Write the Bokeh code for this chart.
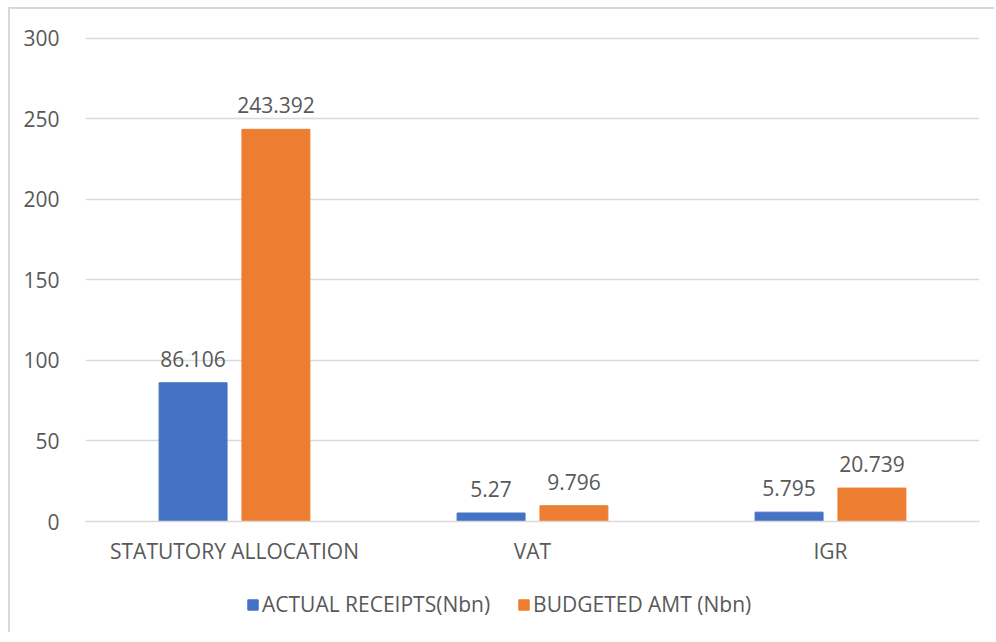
from bokeh.plotting import figure
from bokeh.models import ColumnDataSource, LabelSet, FactorRange, Range1d, Legend, LegendItem, SingleIntervalTicker
from bokeh.layouts import column
from bokeh.transform import dodge
from bokeh.embed import file_html
from bokeh.resources import INLINE
from bokeh.core.properties import value

categories = ["STATUTORY ALLOCATION", "VAT", "IGR"]
actual = [86.106, 5.27, 5.795]
budgeted = [243.392, 9.796, 20.739]
series_names = ["ACTUAL RECEIPTS(Nbn)", "BUDGETED AMT (Nbn)"]
colors = ["#4472C4", "#ED7D31"]

FONT = "Open Sans"
FS = "21px"
TXT = "#595959"
GRID = "#d9d9d9"

src = ColumnDataSource(dict(
    cat=categories,
    actual=actual,
    budgeted=budgeted,
    actual_lbl=[str(v) for v in actual],
    budgeted_lbl=[str(v) for v in budgeted],
))

p = figure(x_range=FactorRange(*categories), y_range=Range1d(0, 301),
           width=984, height=567, output_backend="svg", toolbar_location=None,
           min_border_left=75, min_border_right=15, min_border_top=27, min_border_bottom=55)

off = 0.139
w = 0.228
r1 = p.vbar(x=dodge("cat", -off, range=p.x_range), top="actual", width=w, source=src,
            fill_color=colors[0], line_color=colors[0])
r2 = p.vbar(x=dodge("cat", off, range=p.x_range), top="budgeted", width=w, source=src,
            fill_color=colors[1], line_color=colors[1])

for col, o in (("actual", -off), ("budgeted", off)):
    p.add_layout(LabelSet(x=dodge("cat", o, range=p.x_range), y=col, text=col + "_lbl", source=src,
                          text_align="center", text_baseline="alphabetic", y_offset=16,
                          text_font=value(FONT), text_font_size=FS, text_color=TXT))

p.outline_line_color = None
p.xgrid.grid_line_color = None
p.ygrid.grid_line_color = GRID
p.ygrid.grid_line_width = 1.5

p.yaxis.ticker = SingleIntervalTicker(interval=50)
p.yaxis.axis_line_color = None
p.yaxis.major_tick_line_color = None
p.yaxis.minor_tick_line_color = None
p.yaxis.major_label_standoff = 20
p.yaxis.major_label_text_font = FONT
p.yaxis.major_label_text_font_size = FS
p.yaxis.major_label_text_color = TXT

p.xaxis.axis_line_color = GRID
p.xaxis.axis_line_width = 1.5
p.xaxis.major_tick_line_color = None
p.xaxis.minor_tick_line_color = None
p.xaxis.major_label_standoff = 9
p.xaxis.major_label_text_font = FONT
p.xaxis.major_label_text_font_size = FS
p.xaxis.major_label_text_color = TXT

# legend strip below the chart (its bars lie outside the strip's visible range)
lg = figure(width=984, height=56, output_backend="svg", toolbar_location=None,
            x_range=FactorRange(*categories), y_range=Range1d(1000, 1001),
            x_axis_location=None, y_axis_location=None,
            min_border_left=0, min_border_right=0, min_border_top=0, min_border_bottom=0)
lg.grid.visible = False
lg.outline_line_color = None
e1 = lg.vbar(x="cat", top="actual", width=w, source=src, fill_color=colors[0], line_color=colors[0])
e2 = lg.vbar(x="cat", top="budgeted", width=w, source=src, fill_color=colors[1], line_color=colors[1])
legend = Legend(items=[LegendItem(label=series_names[0], renderers=[e1]),
                       LegendItem(label=series_names[1], renderers=[e2])],
                orientation="horizontal", location=(161, 14),
                label_text_font=FONT, label_text_font_size=FS, label_text_color=TXT,
                glyph_width=13, glyph_height=13, spacing=27, label_standoff=3,
                border_line_color=None, background_fill_alpha=0, margin=0, padding=0)
lg.add_layout(legend)

layout = column(p, lg, spacing=0)
layout.styles = {"border-top": "2px solid #d9d9d9", "border-left": "2px solid #d9d9d9",
                 "margin-left": "8px", "margin-top": "7px"}

open("out.html", "w").write(file_html(layout, INLINE))
